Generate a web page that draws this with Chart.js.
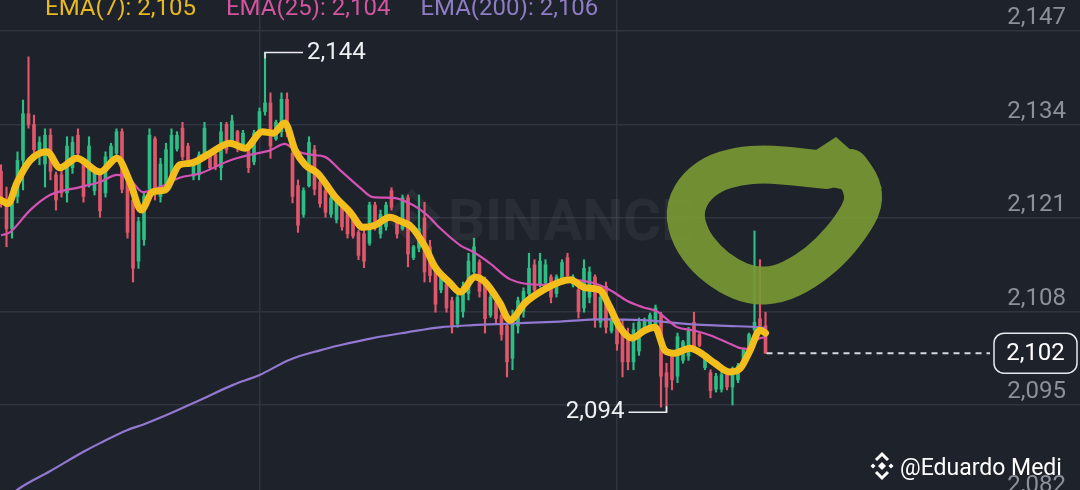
<!DOCTYPE html>
<html><head><meta charset="utf-8">
<script src="https://cdn.jsdelivr.net/npm/chart.js@4.4.0/dist/chart.umd.min.js"></script>
<style>
html,body{margin:0;padding:0;background:#1e222b;overflow:hidden;width:1080px;height:490px}
#wrap{position:relative;width:1080px;height:520px}
</style></head><body>
<div id="wrap"><canvas id="c"></canvas></div>
<script>
// ---- data ----
const candleOpen = [2127.5,2123.5,2119.5,2124.0,2129.0,2135.5,2134.0,2130.5,2128.5,2132.5,
2127.0,2127.0,2124.5,2128.0,2132.5,2129.0,2125.5,2124.8,2127.0,2124.5,
2129.3,2130.0,2133.0,2126.0,2123.5,2115.0,2118.0,2125.0,2132.0,2124.0,
2125.5,2127.0,2130.6,2133.5,2131.0,2126.8,2127.0,2129.5,2130.0,2129.8,
2128.0,2134.0,2131.0,2133.0,2130.8,2130.5,2128.8,2132.8,2135.8,2137.0,
2132.0,2133.0,2137.5,2130.0,2125.5,2121.5,2125.5,2130.5,2126.0,2124.8,
2121.5,2120.8,2122.5,2121.8,2120.8,2119.0,2118.8,2117.5,2122.8,2118.8,
2119.8,2124.8,2120.8,2119.5,2123.8,2115.5,2116.8,2121.0,2117.0,2113.8,
2111.0,2111.8,2109.5,2106.3,2108.0,2110.5,2113.5,2114.8,2112.0,2107.5,
2109.3,2107.5,2106.0,2101.5,2106.0,2108.0,2110.5,2114.5,2111.8,2112.0,
2112.8,2110.5,2112.5,2115.5,2111.8,2111.0,2108.5,2110.0,2112.8,2106.5,
2111.5,2105.3,2106.8,2106.0,2104.5,2101.0,2102.5,2105.3,2106.0,2106.0,
2107.5,2099.5,2101.8,2099.0,2101.2,2101.8,2106.5,2104.8,2100.2,2099.5,
2097.2,2097.2,2099.5,2097.5,2098.5,2100.5,2102.3,2105.5,2107.0,2106.0];
const candleHigh = [2128.4,2125.3,2125.2,2130.2,2137.4,2143.4,2135.3,2132.3,2133.4,2133.4,
2127.4,2127.7,2132.3,2132.3,2133.4,2129.3,2132.3,2128.0,2127.7,2130.2,
2131.4,2133.4,2133.4,2126.7,2124.5,2121.1,2124.5,2133.4,2132.3,2129.3,
2131.4,2133.4,2133.0,2134.3,2131.4,2128.8,2130.2,2134.3,2130.2,2130.0,
2134.3,2134.3,2135.3,2133.2,2133.2,2130.9,2133.2,2136.3,2144.0,2138.4,
2134.6,2138.4,2138.4,2130.4,2126.3,2125.2,2132.3,2131.1,2126.3,2125.3,
2124.2,2123.8,2122.8,2122.1,2121.1,2119.3,2119.3,2123.2,2123.2,2122.1,
2123.2,2125.2,2121.1,2124.2,2124.2,2117.2,2124.2,2123.2,2117.9,2114.5,
2113.5,2112.1,2110.0,2110.7,2112.1,2116.1,2118.2,2115.2,2112.8,2110.6,
2109.6,2107.9,2106.4,2108.2,2110.0,2111.3,2116.1,2115.2,2116.1,2115.2,
2113.1,2113.1,2115.2,2116.1,2113.1,2111.4,2115.2,2114.2,2113.1,2110.7,
2112.1,2107.2,2107.2,2106.8,2105.7,2106.4,2107.1,2107.1,2107.8,2108.9,
2107.9,2100.8,2102.2,2105.0,2104.0,2105.8,2107.9,2105.0,2102.2,2099.9,
2099.4,2099.6,2099.9,2100.3,2100.8,2102.9,2105.0,2119.2,2115.2,2107.9];
const candleLow = [2122.5,2117.0,2118.2,2123.1,2124.9,2133.5,2130.0,2128.4,2125.3,2126.3,
2122.1,2123.9,2123.2,2127.2,2129.5,2123.2,2125.3,2124.2,2121.1,2123.9,
2129.0,2129.5,2124.5,2118.2,2112.1,2114.0,2117.2,2124.5,2123.5,2123.2,
2124.5,2126.3,2130.3,2129.1,2128.6,2126.3,2126.3,2129.1,2127.7,2127.7,
2126.3,2130.0,2130.9,2130.2,2130.4,2127.3,2128.4,2132.3,2135.3,2129.3,
2131.8,2132.3,2132.3,2123.1,2119.0,2121.1,2125.3,2124.2,2122.5,2121.1,
2121.1,2120.3,2119.3,2118.2,2118.2,2115.2,2114.1,2117.2,2119.3,2118.2,
2119.3,2122.1,2118.2,2119.3,2114.2,2115.2,2116.3,2112.1,2112.1,2107.9,
2110.6,2107.9,2105.0,2105.8,2107.2,2109.6,2112.8,2110.0,2105.0,2107.2,
2106.4,2104.0,2098.9,2099.9,2105.0,2107.2,2109.9,2110.3,2111.4,2111.7,
2109.2,2110.0,2112.1,2112.4,2111.4,2107.1,2107.9,2109.2,2105.8,2105.8,
2105.0,2105.0,2102.6,2098.9,2099.9,2099.9,2101.9,2105.0,2105.8,2105.8,
2094.7,2094.0,2097.1,2098.1,2100.8,2101.2,2102.6,2103.1,2099.9,2096.0,
2096.8,2096.8,2097.1,2095.0,2098.1,2100.3,2101.7,2105.2,2105.8,2102.2];
const candleClose = [2123.5,2119.5,2124.0,2129.0,2135.5,2134.0,2130.5,2131.5,2132.5,2127.5,
2123.5,2124.5,2131.0,2131.5,2130.0,2124.0,2131.0,2127.5,2122.0,2129.5,
2131.0,2133.0,2125.0,2119.0,2114.0,2120.5,2124.0,2132.5,2124.5,2128.5,
2130.5,2132.5,2132.5,2129.5,2129.0,2128.5,2129.8,2133.5,2128.0,2128.2,
2133.0,2130.5,2134.5,2130.8,2132.8,2128.0,2132.8,2135.8,2137.0,2131.0,
2134.3,2137.5,2133.0,2124.0,2120.0,2124.8,2131.5,2125.0,2123.0,2121.8,
2123.8,2123.3,2119.8,2118.8,2118.5,2115.8,2115.0,2122.8,2119.8,2121.5,
2122.8,2122.5,2118.8,2123.8,2116.0,2117.0,2119.5,2113.5,2113.0,2109.0,
2113.0,2108.5,2106.0,2110.0,2111.5,2115.0,2117.0,2110.8,2107.0,2110.0,
2107.0,2104.8,2101.0,2106.5,2109.5,2110.8,2114.0,2111.0,2115.0,2114.5,
2110.0,2112.8,2114.8,2113.0,2112.8,2108.0,2114.0,2113.5,2107.0,2110.0,
2105.8,2107.0,2103.5,2101.0,2101.0,2105.5,2106.5,2106.8,2107.5,2108.5,
2099.0,2097.5,2098.5,2104.5,2103.8,2105.3,2103.0,2103.3,2101.8,2097.0,
2099.0,2099.2,2097.5,2100.0,2100.5,2102.6,2104.8,2106.5,2106.0,2102.2];

const ema7Idx = [0,1.3,2.9,5.3,8.4,10.7,13.8,18,21.1,23.5,25.5,27.5,29.8,32.5,34.4,38,41.6,44.4,47.5,49.5,51.6,53.5,55.3,57.6,60.7,63.5,65.8,68,70.7,72.5,74.7,77.1,78.9,81.6,83.5,86.2,88,90.7,92.5,95.3,98,101.6,103.5,106.2,108.9,110.7,112.5,114.7,117.1,118.9,120.7,122.5,125.3,127.1,129.8,132.5,134.4,136.2,138,139];
const ema7Val = [2123.5,2123.0,2125.9,2129.0,2130.2,2128.0,2129.3,2127.4,2129.3,2125.9,2122.1,2124.6,2124.9,2128.4,2128.6,2130.0,2131.4,2130.7,2133.0,2132.8,2134.2,2130.4,2128.4,2127.2,2124.0,2121.8,2119.7,2120.0,2121.1,2120.6,2119.7,2117.0,2114.2,2112.0,2110.7,2112.8,2112.1,2109.2,2106.8,2109.2,2110.7,2112.1,2112.4,2111.3,2111.0,2108.6,2105.8,2104.3,2105.4,2105.8,2102.6,2102.2,2102.9,2102.3,2100.8,2099.6,2100.1,2102.6,2105.4,2105.0];

const ema25Idx = [0,1.6,5.3,8.9,14.4,18,21.1,23.5,25.8,28.9,32.5,36.2,41.6,45.3,48.9,51.6,53.5,56.2,58.9,61.6,65.3,67.6,71.3,74.9,77.5,79.8,83.5,85.8,88.9,92.5,98.5,103.5,107.6,110.7,113.8,116.7,119.3,121.1,123,125.8,128.9,132,134.4,135.6,136.7,138,139];
const ema25Val = [2118.6,2119.0,2122.1,2124.2,2125.3,2126.0,2127.0,2126.3,2124.6,2125.3,2126.6,2127.2,2129.0,2129.8,2130.4,2131.3,2130.4,2129.8,2129.5,2127.7,2125.2,2123.9,2123.8,2122.8,2121.4,2119.6,2117.2,2116.3,2114.7,2112.5,2111.7,2112.4,2112.0,2111.0,2109.5,2108.6,2108.0,2106.9,2105.8,2105.4,2104.7,2103.7,2102.9,2102.8,2103.6,2104.3,2104.4];

const ema200Idx = [0,3.5,8.9,15,18,22.9,25.9,30.1,36.2,42.2,47.1,52.5,58,61.6,67.6,73.8,79.8,85.8,92,101.6,108.9,116.7,125.8,132,138,139];
const ema200Val = [2081.4,2083.5,2085.8,2088.5,2089.7,2091.5,2092.3,2093.6,2095.7,2097.8,2099.2,2101.3,2102.6,2103.3,2104.3,2105.1,2105.8,2106.1,2106.3,2106.6,2106.9,2106.8,2106.2,2106.0,2105.8,2105.7];

const priceTicks = [2082, 2095, 2108, 2121, 2134, 2147];
const timeGridIdx = [47, 112];

// ---- styles / geometry ----
const BG = '#1e222b', GRID = '#2f343e';
const GREEN = '#2ebd85', RED = '#e0566b';
const PX_PER_UNIT = 93.5 / 13;
const Y_MAX = 2147 + 31 / PX_PER_UNIT;
const Y_MIN = 2147 - (520 - 31) / PX_PER_UNIT;
const STEP = 5.5;
const X_MIN = -1 / STEP;
const X_MAX = X_MIN + 1066 / STEP;

const fmt = v => Math.round(v).toLocaleString('en-US');
const colors = candleClose.map((c, i) => c >= candleOpen[i] ? GREEN : RED);
const wickData = candleHigh.map((h, i) => ({x: i, y: [candleLow[i], h]}));
const bodyData = candleOpen.map((o, i) => ({x: i, y: [Math.min(o, candleClose[i]), Math.max(o, candleClose[i])]}));
const toPts = (idx, val) => idx.map((x, i) => ({x, y: val[i]}));

function diamond(ctx, cx, cy, r) {
  ctx.beginPath(); ctx.moveTo(cx, cy - r); ctx.lineTo(cx + r, cy); ctx.lineTo(cx, cy + r); ctx.lineTo(cx - r, cy); ctx.closePath();
}

const bgPlugin = {
  id: 'bg',
  beforeDraw(chart) {
    const c = chart.ctx; c.save(); c.fillStyle = BG; c.fillRect(0, 0, chart.width, chart.height); c.restore();
  },
  beforeDatasetsDraw(chart) {
    const c = chart.ctx; c.save();
    c.fillStyle = 'rgba(255,255,255,0.05)';
    c.strokeStyle = 'rgba(255,255,255,0.05)';
    c.font = 'bold 58px Roboto';
    c.textBaseline = 'alphabetic';
    c.fillText('BINANCE', 448, 240);
    c.lineWidth = 6; diamond(c, 412, 217, 24); c.stroke();
    diamond(c, 412, 217, 7); c.fill();
    c.restore();
  }
};

const overlayPlugin = {
  id: 'overlay',
  afterDatasetsDraw(chart) {
    const c = chart.ctx, xs = chart.scales.x, ys = chart.scales.y;
    c.save();
    // hand-drawn green loop with arrow tip (drawn on an offscreen layer so overlaps don't darken)
    const off = document.createElement('canvas');
    off.width = chart.canvas.width; off.height = chart.canvas.height;
    const o = off.getContext('2d');
    const dpr = chart.currentDevicePixelRatio || 1;
    o.scale(dpr, dpr);
    const ring = [[826,170],[800,167],[765,164],[738,166],[712,174],[693,190],[684,212],[690,237],[706,259],[728,276],[752,286],[778,285],[805,272],[830,252],[851,227],[864,204],[862,185],[850,168]];
    o.strokeStyle = '#7a9a33'; o.fillStyle = '#7a9a33';
    o.lineWidth = 38; o.lineCap = 'round'; o.lineJoin = 'round';
    o.beginPath(); o.moveTo(ring[0][0], ring[0][1]);
    for (let k = 1; k < ring.length - 1; k++) {
      const mx = (ring[k][0] + ring[k+1][0]) / 2, my = (ring[k][1] + ring[k+1][1]) / 2;
      o.quadraticCurveTo(ring[k][0], ring[k][1], mx, my);
    }
    o.lineTo(ring[ring.length-1][0], ring[ring.length-1][1]);
    o.stroke();
    o.beginPath();
    o.moveTo(816, 150); o.lineTo(836, 137); o.lineTo(862, 160); o.lineTo(882, 188);
    o.lineTo(862, 200); o.lineTo(846, 190); o.lineTo(826, 186); o.closePath(); o.fill();
    c.setTransform(1, 0, 0, 1, 0, 0);
    c.globalAlpha = 0.9;
    c.drawImage(off, 0, 0);
    c.globalAlpha = 1;
    c.setTransform(dpr, 0, 0, dpr, 0, 0);

    // high / low markers
    c.strokeStyle = '#e9ebee'; c.fillStyle = '#eef0f2'; c.lineWidth = 1.5; c.lineCap = 'butt';
    c.font = '24px Roboto'; c.textBaseline = 'middle';
    let iMax = 0, iMin = 0;
    candleHigh.forEach((h, i) => { if (h > candleHigh[iMax]) iMax = i; });
    candleLow.forEach((l, i) => { if (l < candleLow[iMin]) iMin = i; });
    let px = xs.getPixelForValue(iMax), py = ys.getPixelForValue(candleHigh[iMax]);
    c.beginPath(); c.moveTo(px, py + 6); c.lineTo(px, py); c.lineTo(px + 38, py); c.stroke();
    c.textAlign = 'left'; c.fillText(fmt(candleHigh[iMax]), px + 42, py);
    px = xs.getPixelForValue(iMin); py = ys.getPixelForValue(candleLow[iMin]);
    c.beginPath(); c.moveTo(px, py - 6); c.lineTo(px, py); c.lineTo(px - 38, py); c.stroke();
    c.textAlign = 'right'; c.fillText(fmt(candleLow[iMin]), px - 42, py);

    // last price line and box
    const last = candleClose.length - 1;
    const lp = candleClose[last];
    const ly = ys.getPixelForValue(lp), lx = xs.getPixelForValue(last);
    c.strokeStyle = '#d5d8dd'; c.lineWidth = 2; c.setLineDash([6, 5]);
    c.beginPath(); c.moveTo(lx + 1, ly); c.lineTo(990, ly); c.stroke(); c.setLineDash([]);
    c.beginPath(); c.roundRect(994, ly - 20, 83, 40, 10);
    c.fillStyle = BG; c.fill(); c.strokeStyle = '#e6e8eb'; c.lineWidth = 1.5; c.stroke();
    c.fillStyle = '#ffffff'; c.textAlign = 'center'; c.font = '24px Roboto';
    c.fillText(fmt(lp), 1035.5, ly + 1);

    // EMA legend
    c.textAlign = 'left'; c.textBaseline = 'alphabetic'; c.font = '24px Roboto';
    const leg = [
      ['EMA(7): ' + fmt(ema7Val[ema7Val.length-1]), '#e9b923'],
      ['EMA(25): ' + fmt(ema25Val[ema25Val.length-1]), '#d4549f'],
      ['EMA(200): ' + fmt(ema200Val[ema200Val.length-1]), '#8f7cc4']
    ];
    let lxp = 45;
    leg.forEach(([t, col]) => { c.fillStyle = col; c.fillText(t, lxp, 15); lxp += c.measureText(t).width + 30; });

    // author handle
    c.fillStyle = '#ffffff'; c.strokeStyle = '#ffffff';
    c.font = '23px Roboto';
    c.fillText('@Eduardo Medi', 900, 475);
    diamond(c, 882, 466, 4); c.fill();
    diamond(c, 873, 466, 2.5); c.fill();
    diamond(c, 891, 466, 2.5); c.fill();
    c.lineWidth = 3;
    c.beginPath(); c.moveTo(876, 460); c.lineTo(882, 454); c.lineTo(888, 460); c.stroke();
    c.beginPath(); c.moveTo(876, 472); c.lineTo(882, 478); c.lineTo(888, 472); c.stroke();
    c.restore();
  }
};

new Chart(document.getElementById('c'), {
  type: 'bar',
  data: {
    datasets: [
      {type: 'line', label: 'EMA(7)', data: toPts(ema7Idx, ema7Val), borderColor: '#f3bd1c', borderWidth: 7,
       pointRadius: 0, cubicInterpolationMode: 'monotone', borderCapStyle: 'round', borderJoinStyle: 'round', order: 0},
      {type: 'line', label: 'EMA(25)', data: toPts(ema25Idx, ema25Val), borderColor: '#d552b5', borderWidth: 2.2,
       pointRadius: 0, cubicInterpolationMode: 'monotone', order: 1},
      {type: 'line', label: 'EMA(200)', data: toPts(ema200Idx, ema200Val), borderColor: '#9378d0', borderWidth: 2.2,
       pointRadius: 0, cubicInterpolationMode: 'monotone', order: 2},
      {type: 'bar', label: 'body', data: bodyData, backgroundColor: colors, barThickness: 3, grouped: false, order: 3},
      {type: 'bar', label: 'wick', data: wickData, backgroundColor: colors, barThickness: 1.5, grouped: false, order: 4}
    ]
  },
  options: {
    indexAxis: 'x',
    responsive: true, maintainAspectRatio: false, animation: false,
    layout: {padding: 0},
    plugins: {legend: {display: false}, tooltip: {enabled: false}},
    scales: {
      x: {
        type: 'linear', min: X_MIN, max: X_MAX, offset: false,
        afterBuildTicks: s => { s.ticks = timeGridIdx.map(v => ({value: v})); },
        afterFit: s => { s.paddingLeft = 0; s.paddingRight = 0; s.paddingTop = 0; s.paddingBottom = 0; },
        grid: {color: GRID, lineWidth: 1.5, drawTicks: false, offset: false},
        border: {display: false},
        ticks: {display: false}
      },
      y: {
        type: 'linear', position: 'right', min: Y_MIN, max: Y_MAX,
        afterBuildTicks: s => { s.ticks = priceTicks.map(v => ({value: v})); },
        afterFit: s => { s.paddingTop = 0; s.paddingBottom = 0; },
        grid: {color: GRID, lineWidth: 1.5, drawTicks: true, tickLength: 14},
        border: {display: false},
        ticks: {mirror: true, padding: 0, labelOffset: -13, color: '#8b909a', autoSkip: false,
                font: {family: 'Roboto', size: 24}, callback: v => fmt(v)}
      }
    }
  },
  plugins: [bgPlugin, overlayPlugin]
});
</script>
</body></html>
